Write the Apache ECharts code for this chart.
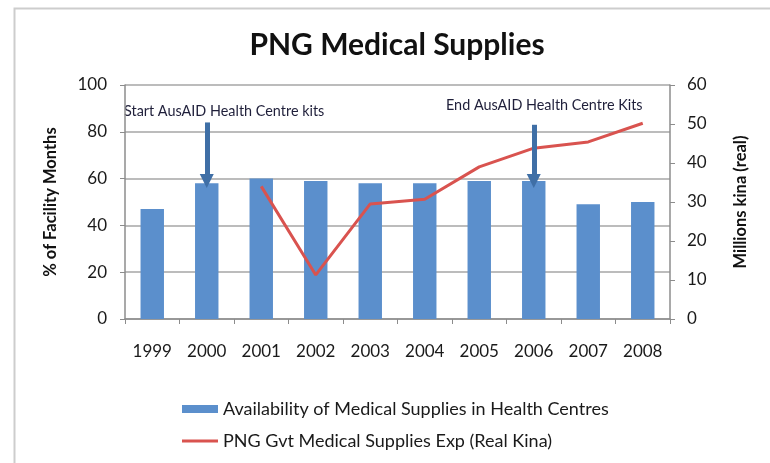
<!DOCTYPE html>
<html>
<head>
<meta charset="utf-8">
<script src="https://cdn.jsdelivr.net/npm/echarts@6/dist/echarts.min.js"></script>
<style>html,body{margin:0;padding:0;background:#fff;}#c{width:770px;height:463px;}</style>
</head>
<body>
<div id="c"></div>
<script>
const years = ['1999','2000','2001','2002','2003','2004','2005','2006','2007','2008'];
const availability = [47, 58, 60, 59, 58, 58, 59, 59, 49, 50];
const expenditure = ['-', '-', 34, 11.3, 29.5, 30.7, 39, 43.8, 45.4, 50.2];
const leftTicks = { min: 0, max: 100, interval: 20 };
const rightTicks = { min: 0, max: 60, interval: 10 };
const arrowStartCat = '2000', arrowEndCat = '2006';
const arrowTops = [84, 83];
const arrowBottoms = [59, 59];
const barName = 'Availability of Medical Supplies in Health Centres';
const lineName = 'PNG Gvt Medical Supplies Exp (Real Kina)';

const FONT = 'Lato';
const chart = echarts.init(document.getElementById('c'));
chart.setOption({
  backgroundColor: '#fff',
  textStyle: { fontFamily: FONT },
  title: {
    text: 'PNG Medical Supplies',
    left: 392, top: 25, textAlign: 'center',
    textStyle: { fontFamily: FONT, fontSize: 30, fontWeight: 'bold', color: '#111' }
  },
  grid: { left: 125, right: 100, top: 85, bottom: 144 },
  legend: [
    {
      left: 177, top: 395,
      itemWidth: 36, itemHeight: 8,
      textStyle: { fontFamily: FONT, fontSize: 18, color: '#1a1a1a' },
      data: [{ name: barName, icon: 'rect' }]
    },
    {
      left: 177, top: 427,
      itemWidth: 36, itemHeight: 3,
      textStyle: { fontFamily: FONT, fontSize: 18, color: '#1a1a1a' },
      data: [{ name: lineName, icon: 'rect' }]
    }
  ],
  xAxis: {
    type: 'category', data: years,
    axisLine: { lineStyle: { color: '#8c8c8c', width: 1.5 } },
    axisTick: { show: true, length: 5, lineStyle: { color: '#8c8c8c' } },
    axisLabel: { margin: 24, fontFamily: FONT, fontSize: 17, color: '#1a1a1a' }
  },
  yAxis: [
    {
      type: 'value', min: leftTicks.min, max: leftTicks.max, interval: leftTicks.interval,
      name: '% of Facility Months', nameLocation: 'middle', nameGap: 66,
      nameTextStyle: { fontFamily: FONT, fontSize: 16.5, fontWeight: 'bold', color: '#111' },
      axisLine: { show: true, lineStyle: { color: '#8c8c8c', width: 1.5 } },
      axisTick: { show: true, length: 5, lineStyle: { color: '#8c8c8c' } },
      axisLabel: { margin: 18, fontFamily: FONT, fontSize: 17, color: '#1a1a1a' },
      splitLine: { show: true, lineStyle: { color: '#a6a6a6', width: 1.5 } }
    },
    {
      type: 'value', min: rightTicks.min, max: rightTicks.max, interval: rightTicks.interval,
      name: 'Millions kina (real)', nameLocation: 'middle', nameGap: 62,
      nameTextStyle: { fontFamily: FONT, fontSize: 16.5, fontWeight: 'bold', color: '#111' },
      axisLine: { show: true, lineStyle: { color: '#8c8c8c', width: 1.5 } },
      axisTick: { show: true, length: 5, lineStyle: { color: '#8c8c8c' } },
      axisLabel: { margin: 17, fontFamily: FONT, fontSize: 17, color: '#1a1a1a' },
      splitLine: { show: false }
    }
  ],
  series: [
    {
      name: barName, type: 'bar', data: availability, yAxisIndex: 0,
      barWidth: '43%', itemStyle: { color: '#5b8fcc' },
      markLine: {
        silent: true, symbol: ['none', 'triangle'], symbolSize: 14,
        label: { show: false },
        lineStyle: { color: '#3f6fa6', width: 5, type: 'solid' },
        data: [
          [{ coord: [arrowStartCat, arrowTops[0]] }, { coord: [arrowStartCat, arrowBottoms[0]] }],
          [{ coord: [arrowEndCat, arrowTops[1]] }, { coord: [arrowEndCat, arrowBottoms[1]] }]
        ]
      }
    },
    {
      name: lineName, type: 'line', data: expenditure, yAxisIndex: 1,
      symbol: 'none', lineStyle: { color: '#d9534f', width: 3 },
      itemStyle: { color: '#d9534f' }
    }
  ],
  graphic: [
    { type: 'rect', left: 12, top: 6, shape: { width: 800, height: 500 },
      style: { fill: 'none', stroke: '#cdcdcd', lineWidth: 2 }, silent: true },
    { type: 'text', left: 124, top: 104,
      style: { text: 'Start AusAID Health Centre kits', font: '14.4px Lato', fill: '#1f1f3a' } },
    { type: 'text', left: 446, top: 98,
      style: { text: 'End AusAID Health Centre Kits', font: '14.4px Lato', fill: '#1f1f3a' } }
  ]
});
</script>
</body>
</html>
